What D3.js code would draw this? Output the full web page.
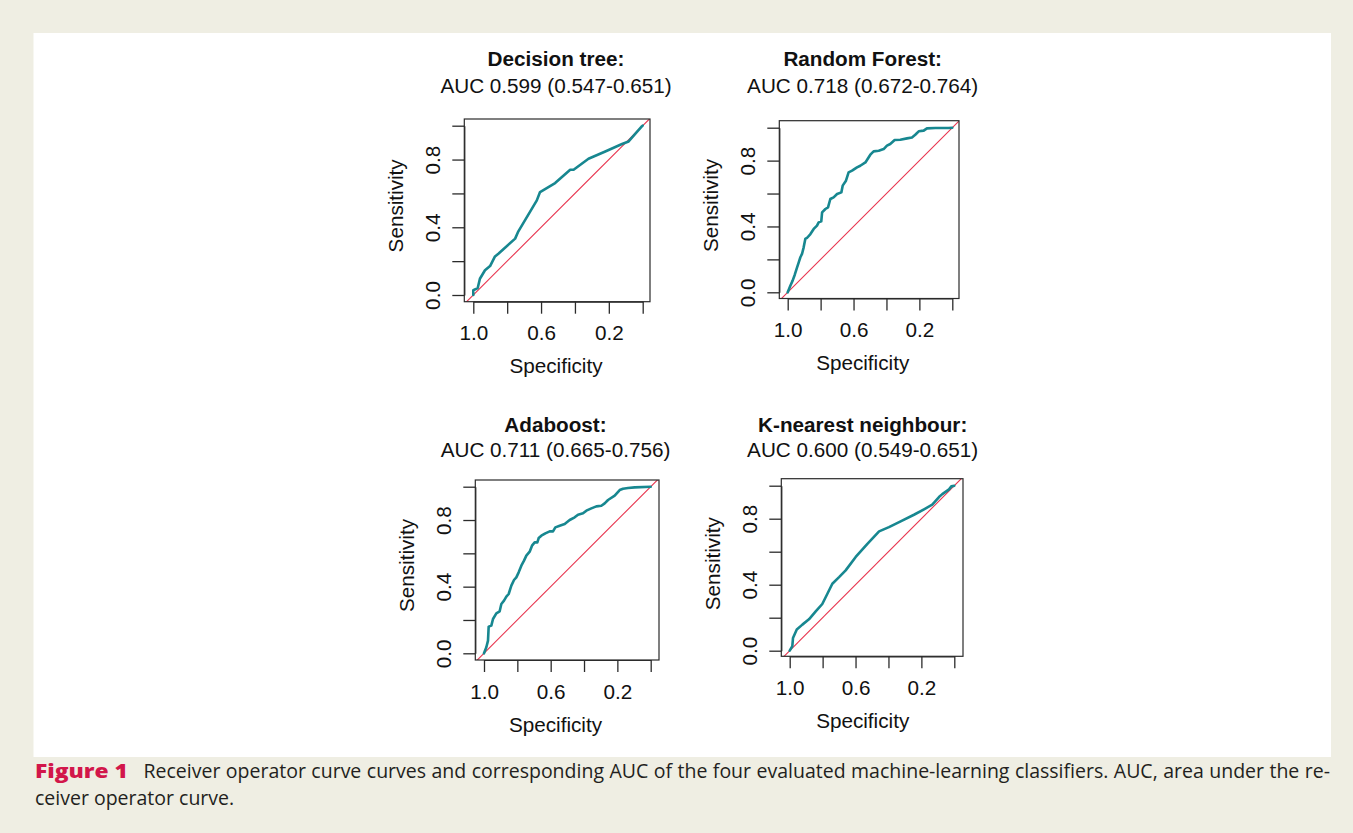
<!DOCTYPE html>
<html>
<head>
<meta charset="utf-8">
<script src="https://cdn.jsdelivr.net/npm/d3@7"></script>
<style>
  body { margin: 0; background: #efeee3; }
  svg { display: block; }
  .plot text { font-family: "Liberation Sans", Arial, Helvetica, sans-serif; fill: #111; }
  .caption { font-family: "Open Sans", "Lato", sans-serif; fill: #231f20; }
</style>
</head>
<body>
<svg id="fig" width="1353" height="833"></svg>
<script>
// ---- data ----
const modelNames = ["Decision tree:", "Random Forest:", "Adaboost:", "K-nearest neighbour:"];
const aucLabels = ["AUC 0.599 (0.547-0.651)", "AUC 0.718 (0.672-0.764)",
                   "AUC 0.711 (0.665-0.756)", "AUC 0.600 (0.549-0.651)"];

const tickValues = [1.0, 0.8, 0.6, 0.4, 0.2, 0.0];
const xTickLabels = ["1.0", "0.6", "0.2"];
const yTickLabels = ["0.0", "0.4", "0.8"];

const dtSpec = [1.000, 1.000, 0.974, 0.961, 0.931, 0.901, 0.872, 0.852, 0.753, 0.734, 0.625,
                0.606, 0.517, 0.428, 0.408, 0.320, 0.221, 0.122, 0.083, 0.034, 0.004, 0.000];
const dtSens = [0.000, 0.028, 0.041, 0.096, 0.146, 0.171, 0.228, 0.244, 0.333, 0.376, 0.559,
                0.608, 0.661, 0.740, 0.740, 0.805, 0.848, 0.892, 0.907, 0.963, 0.998, 1.000];

const rfSpec = [1.000, 0.984, 0.970, 0.957, 0.943, 0.933, 0.923, 0.913, 0.903, 0.893, 0.883,
                0.862, 0.842, 0.822, 0.812, 0.796, 0.791, 0.771, 0.755, 0.741, 0.721, 0.700,
                0.674, 0.666, 0.646, 0.630, 0.609, 0.579, 0.559, 0.528, 0.498, 0.478, 0.447,
                0.417, 0.397, 0.377, 0.350, 0.316, 0.275, 0.245, 0.225, 0.204, 0.174, 0.154,
                0.103, 0.022, 0.000];
const rfSens = [0.000, 0.040, 0.071, 0.107, 0.152, 0.182, 0.213, 0.233, 0.273, 0.324, 0.330,
                0.354, 0.385, 0.405, 0.425, 0.431, 0.486, 0.506, 0.516, 0.567, 0.577, 0.597,
                0.607, 0.648, 0.678, 0.729, 0.739, 0.759, 0.769, 0.789, 0.836, 0.856, 0.860,
                0.870, 0.891, 0.901, 0.925, 0.927, 0.935, 0.941, 0.957, 0.978, 0.982, 0.996,
                0.998, 0.998, 1.000];

const adaSpec = [1.000, 0.986, 0.976, 0.972, 0.956, 0.946, 0.926, 0.906, 0.896, 0.880, 0.866,
                 0.852, 0.836, 0.820, 0.806, 0.792, 0.776, 0.760, 0.746, 0.726, 0.712, 0.696,
                 0.680, 0.672, 0.656, 0.632, 0.606, 0.586, 0.572, 0.546, 0.516, 0.486, 0.456,
                 0.436, 0.406, 0.386, 0.356, 0.326, 0.296, 0.276, 0.256, 0.216, 0.186, 0.166,
                 0.136, 0.096, 0.000];
const adaSens = [0.000, 0.036, 0.076, 0.160, 0.166, 0.206, 0.240, 0.252, 0.296, 0.316, 0.340,
                 0.356, 0.406, 0.440, 0.456, 0.486, 0.526, 0.556, 0.586, 0.610, 0.646, 0.666,
                 0.666, 0.692, 0.706, 0.720, 0.732, 0.732, 0.756, 0.766, 0.776, 0.800, 0.816,
                 0.832, 0.840, 0.856, 0.870, 0.882, 0.886, 0.900, 0.920, 0.946, 0.980, 0.988,
                 0.992, 0.996, 1.000];

const knnSpec = [1.000, 0.984, 0.980, 0.957, 0.923, 0.883, 0.842, 0.802, 0.771, 0.741, 0.700,
                 0.660, 0.599, 0.528, 0.457, 0.397, 0.326, 0.245, 0.184, 0.134, 0.123, 0.093,
                 0.073, 0.032, 0.018, 0.000];
const knnSens = [0.000, 0.028, 0.077, 0.129, 0.158, 0.190, 0.238, 0.283, 0.345, 0.406, 0.446,
                 0.487, 0.568, 0.648, 0.723, 0.749, 0.784, 0.824, 0.857, 0.885, 0.897, 0.931,
                 0.949, 0.978, 0.996, 1.000];

const captionLabel = "Figure 1";
const captionLine1 = "Receiver operator curve curves and corresponding AUC of the four evaluated machine-learning classifiers. AUC, area under the re-";
const captionLine2 = "ceiver operator curve.";

// ---- layout (pixels) ----
// box: plot frame; x0/x1: pixel of specificity 1 and 0; y0/y1: pixel of sensitivity 0 and 1
// cx: centre of the titles and the x label
const panels = [
  { spec: dtSpec,  sens: dtSens,  box: [464.3, 119, 650, 301.7],   x0: 473.3, x1: 642.7, y0: 295,   y1: 125.7, cx: 556,   t1: 66,  t2: 93 },
  { spec: rfSpec,  sens: rfSens,  box: [779.3, 120.7, 959, 298.5], x0: 787.7, x1: 952.3, y0: 292.3, y1: 127.7, cx: 862.7, t1: 66,  t2: 93 },
  { spec: adaSpec, sens: adaSens, box: [475.3, 480, 659, 660],     x0: 484,   x1: 650.7, y0: 653.3, y1: 486.7, cx: 555.5, t1: 432, t2: 457 },
  { spec: knnSpec, sens: knnSens, box: [781.3, 478.7, 963, 656.3], x0: 789.7, x1: 954.3, y0: 650.7, y1: 485.7, cx: 862.7, t1: 432, t2: 457 }
];

const fontSize = "20.7px";
const curveColor = "#178790";
const diagColor = "#e8344e";
const inkColor = "#2b2b2b";

const svg = d3.select("#fig");

// background sheet
svg.append("rect").attr("x", 0).attr("y", 0).attr("width", 1353).attr("height", 833).attr("fill", "#efeee3");
svg.append("rect").attr("x", 33.5).attr("y", 33).attr("width", 1297.5).attr("height", 724).attr("fill", "#ffffff");

function drawPanel(p, i) {
  const g = svg.append("g").attr("class", "plot");
  const [bx0, by0, bx1, by1] = p.box;

  const x = d3.scaleLinear().domain([1, 0]).range([p.x0, p.x1]);
  const y = d3.scaleLinear().domain([0, 1]).range([p.y0, p.y1]);

  const clipId = "clip" + i;
  g.append("clipPath").attr("id", clipId)
    .append("rect").attr("x", bx0).attr("y", by0).attr("width", bx1 - bx0).attr("height", by1 - by0);

  // chance line (sens = 1 - spec), clipped to the frame
  const diag = [[1.2, -0.2], [-0.2, 1.2]];
  g.append("path")
    .attr("clip-path", "url(#" + clipId + ")")
    .attr("d", d3.line().x(d => x(d[0])).y(d => y(d[1]))(diag))
    .attr("fill", "none").attr("stroke", diagColor).attr("stroke-width", 1.1);

  // ROC curve
  const pts = p.spec.map((s, k) => [s, p.sens[k]]);
  g.append("path")
    .attr("d", d3.line().x(d => x(d[0])).y(d => y(d[1]))(pts))
    .attr("fill", "none").attr("stroke", curveColor)
    .attr("stroke-width", 2.6).attr("stroke-linejoin", "round").attr("stroke-linecap", "round");

  // frame
  g.append("rect")
    .attr("x", bx0).attr("y", by0).attr("width", bx1 - bx0).attr("height", by1 - by0)
    .attr("fill", "none").attr("stroke", inkColor).attr("stroke-width", 1.2);

  // axes
  const xAxis = g.append("g")
    .attr("transform", "translate(0," + by1 + ")")
    .call(d3.axisBottom(x).tickValues(tickValues).tickSize(12).tickSizeOuter(0)
      .tickFormat(d => xTickLabels.includes(d.toFixed(1)) ? d.toFixed(1) : ""));
  xAxis.select(".domain").attr("stroke", inkColor).attr("stroke-width", 1.2);
  xAxis.selectAll(".tick line").attr("stroke", inkColor).attr("stroke-width", 1.3);
  xAxis.selectAll(".tick text")
    .attr("y", 38.5).attr("dy", null)
    .style("font-size", fontSize).attr("fill", "#111");

  const yAxis = g.append("g")
    .attr("transform", "translate(" + bx0 + ",0)")
    .call(d3.axisLeft(y).tickValues(tickValues).tickSize(12).tickSizeOuter(0)
      .tickFormat(d => yTickLabels.includes(d.toFixed(1)) ? d.toFixed(1) : ""));
  yAxis.select(".domain").attr("stroke", inkColor).attr("stroke-width", 1.2);
  yAxis.selectAll(".tick line").attr("stroke", inkColor).attr("stroke-width", 1.3);
  yAxis.selectAll(".tick text")
    .attr("x", null).attr("dy", null)
    .attr("transform", "translate(-24,0) rotate(-90)")
    .attr("text-anchor", "middle")
    .style("font-size", fontSize).attr("fill", "#111");

  // axis titles
  g.append("text")
    .attr("x", p.cx).attr("y", by1 + 71.5)
    .attr("text-anchor", "middle").style("font-size", fontSize)
    .text("Specificity");
  g.append("text")
    .attr("transform", "translate(" + (bx0 - 61) + "," + ((p.y0 + p.y1) / 2 - 4.5) + ") rotate(-90)")
    .attr("text-anchor", "middle").style("font-size", fontSize)
    .text("Sensitivity");

  // titles
  g.append("text")
    .attr("x", p.cx).attr("y", p.t1)
    .attr("text-anchor", "middle").style("font-size", fontSize).style("font-weight", "bold")
    .text(modelNames[i]);
  g.append("text")
    .attr("x", p.cx).attr("y", p.t2)
    .attr("text-anchor", "middle").style("font-size", fontSize)
    .text(aucLabels[i]);
}

panels.forEach(drawPanel);

// ---- caption ----
svg.append("text")
  .attr("class", "caption")
  .attr("x", 35).attr("y", 778)
  .attr("textLength", 93).attr("lengthAdjust", "spacingAndGlyphs")
  .style("font-size", "19.5px").style("font-weight", "800").style("fill", "#d2164a")
  .text(captionLabel);

const line1 = svg.append("text")
  .attr("class", "caption")
  .attr("x", 143.5).attr("y", 778)
  .style("font-size", "19.5px")
  .text(captionLine1);
// justify the first line so it ends at the right margin
const natural = line1.node().getComputedTextLength();
const gaps = captionLine1.split(" ").length - 1;
line1.style("word-spacing", ((1330 - 143.5 - natural) / gaps) + "px");

svg.append("text")
  .attr("class", "caption")
  .attr("x", 35).attr("y", 805)
  .style("font-size", "19.5px")
  .text(captionLine2);
</script>
</body>
</html>
